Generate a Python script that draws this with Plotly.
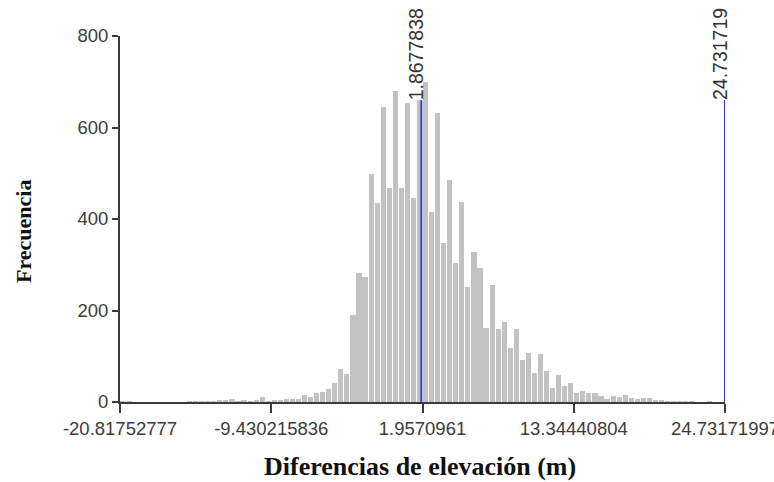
import plotly.graph_objects as go

# Histogram of elevation differences: 100 equal bins over the data range
x_min = -20.81752777
x_max = 24.73171997
counts = [
    2, 1, 0, 0, 0, 0, 0, 0, 0, 0,
    0, 1, 1, 2, 1, 2, 4, 5, 7, 2,
    4, 2, 3, 11, 2, 4, 5, 7, 7, 7,
    15, 10, 20, 22, 29, 42, 73, 62, 190, 282,
    273, 499, 434, 645, 468, 679, 468, 654, 445, 661,
    700, 415, 632, 348, 486, 304, 437, 251, 328, 292,
    162, 255, 160, 175, 117, 160, 91, 108, 64, 104,
    68, 30, 60, 35, 42, 20, 24, 20, 20, 13,
    6, 13, 10, 15, 8, 6, 8, 9, 4, 4,
    2, 2, 1, 2, 1, 0, 0, 1, 0, 0,
]

x_tick_vals = [-20.81752777, -9.430215836, 1.9570961, 13.34440804, 24.73171997]
x_tick_text = ["-20.81752777", "-9.430215836", "1.9570961", "13.34440804", "24.73171997"]
y_tick_vals = [0, 200, 400, 600, 800]

# Reference lines (value, label)
marker_values = [1.8677838, 24.73171997]
marker_labels = ["1.8677838", "24.731719"]
marker_top = 660

n_bins = len(counts)
bin_width = (x_max - x_min) / n_bins
centers = [x_min + (i + 0.5) * bin_width for i in range(n_bins)]

axis_color = "#3a3a3a"
tick_font = dict(family="Liberation Sans, Arial", size=18.5, color="#3c3c3c")
title_font = "Liberation Serif, Times New Roman"

fig = go.Figure()
fig.add_trace(go.Bar(
    x=centers, y=counts, width=bin_width * 0.85,
    marker=dict(color="#c2c2c2", line=dict(width=0)),
    showlegend=False, hoverinfo="x+y",
))

for v in marker_values:
    fig.add_trace(go.Scatter(
        x=[v, v], y=[0, marker_top], mode="lines",
        line=dict(color="#3c3cd6", width=2),
        showlegend=False, hoverinfo="skip", cliponaxis=False,
    ))

annotations = []
for v, lab in zip(marker_values, marker_labels):
    annotations.append(dict(
        x=v, y=marker_top, xref="x", yref="y", text=lab, showarrow=False,
        textangle=-90, xanchor="center", yanchor="bottom", xshift=-5, yshift=-2,
        font=dict(family="Liberation Sans, Arial", size=19.5, color="#333333"),
    ))

annotations.append(dict(
    x=24, y=232, xref="paper", yref="paper", text="<b>Frecuencia</b>",
    showarrow=False, textangle=-90, xanchor="center", yanchor="middle",
    font=dict(family=title_font, size=22, color="#111111"),
))
annotations.append(dict(
    x=420, y=466, xref="paper", yref="paper", text="<b>Diferencias de elevación (m)</b>",
    showarrow=False, xanchor="center", yanchor="middle",
    font=dict(family=title_font, size=26, color="#111111"),
))

# Convert the pixel-placed title annotations to paper coordinates
W, H = 774, 482
ml, mr, mt, mb = 120, 49, 36, 80
for a in annotations[-2:]:
    a["x"] = (a["x"] - ml) / (W - ml - mr)
    a["y"] = (H - mb - a["y"]) / (H - mt - mb)

fig.update_layout(
    width=W, height=H,
    margin=dict(l=ml, r=mr, t=mt, b=mb, pad=0, autoexpand=False),
    paper_bgcolor="white", plot_bgcolor="white",
    bargap=0,
    annotations=annotations,
    xaxis=dict(
        range=[x_min, x_max], tickvals=x_tick_vals, ticktext=x_tick_text,
        ticks="outside", ticklen=9, tickwidth=1.5, tickcolor=axis_color,
        showline=True, linecolor=axis_color, linewidth=2,
        showgrid=False, zeroline=False, tickfont=tick_font,
        ticklabeloverflow="allow", automargin=False,
    ),
    yaxis=dict(
        range=[0, 800], tickvals=y_tick_vals,
        ticks="outside", ticklen=6, tickwidth=1.5, tickcolor=axis_color,
        showline=True, linecolor=axis_color, linewidth=2,
        showgrid=False, zeroline=False, tickfont=tick_font,
        ticklabeloverflow="allow", automargin=False,
    ),
)

fig.write_html("out.html")
